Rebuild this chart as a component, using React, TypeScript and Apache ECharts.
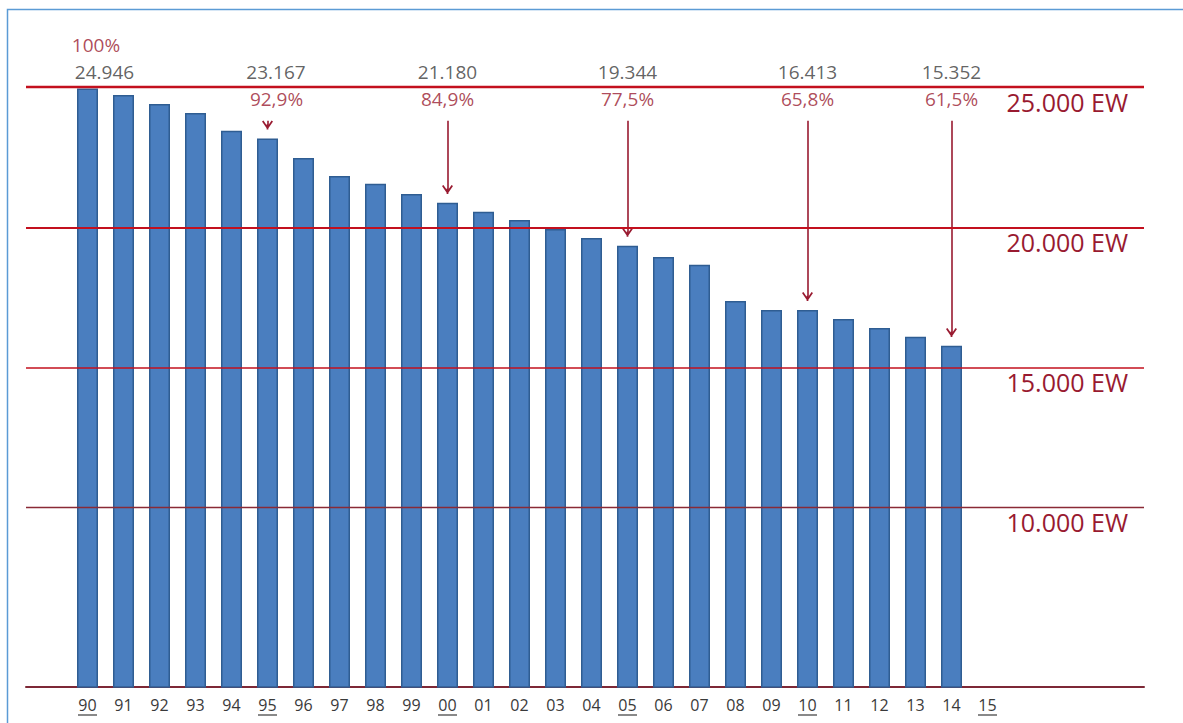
import React, { useEffect, useRef } from 'react';
import * as echarts from 'echarts';

// ---------- data ----------
const YEARS = ['90', '91', '92', '93', '94', '95', '96', '97', '98', '99', '00', '01', '02', '03', '04', '05', '06', '07', '08', '09', '10', '11', '12', '13', '14', '15'];
const INHABITANTS: (number | null)[] = [24946, 24720, 24400, 24080, 23440, 23167, 22470, 21830, 21550, 21190, 20870, 20550, 20260, 19940, 19620, 19344, 18940, 18660, 17370, 17050, 17050, 16730, 16410, 16090, 15770, null];
const UNDERLINED_YEARS = ['90', '95', '00', '05', '10', '15'];
const ANNOTATED_YEARS = ['90', '95', '00', '05', '10', '14'];
const ANNOTATED_VALUES = ['24.946', '23.167', '21.180', '19.344', '16.413', '15.352'];
const ANNOTATED_SHARES = ['100%', '92,9%', '84,9%', '77,5%', '65,8%', '61,5%'];
const REFERENCE_LEVELS = [25000, 20000, 15000, 10000];
const REFERENCE_LABELS = ['25.000 EW', '20.000 EW', '15.000 EW', '10.000 EW'];

// ---------- layout / style ----------
const Y_MIN = 3600;
const Y_MAX = 28000;
const VALUE_LABEL_Y = 25540;
const SHARE_LABEL_Y = 24575;
const TOP_SHARE_Y = 26500;
const ARROW_START = 23800;
const ARROW_GAP = 480;
const ANNOT_DX: Record<string, [number, number]> = { '90': [17, 8.5], '95': [8.5, 9] };

const FONT = '"Open Sans", "Noto Sans", sans-serif';
const GREY = '#3a3a3a';
const TEXT_RED = '#991a30';
const LINE_RED = '#c3101e';
const LEVEL_STYLES = [
  { color: LINE_RED, width: 2.4 },
  { color: LINE_RED, width: 2 },
  { color: LINE_RED, width: 1.6 },
  { color: '#8a2a36', width: 1.4 },
];
const CHEVRON = 'path://M5,0 L10,7.5 L8.7,8.5 L5,2.9 L1.3,8.5 L0,7.5 Z M4.2,0 L5.8,0 L5.8,5 L4.2,5 Z';

export default function App() {
  const ref = useRef<HTMLDivElement>(null);

  useEffect(() => {
    document.body.style.margin = '0';
    const chart = echarts.init(ref.current!, undefined, { renderer: 'svg' });

    const annotations: any[] = [];
    ANNOTATED_YEARS.forEach((yr, i) => {
      const dx = ANNOT_DX[yr] || [0, 0];
      annotations.push({
        value: [yr, VALUE_LABEL_Y],
        label: { formatter: ANNOTATED_VALUES[i], color: GREY, offset: [dx[0], 0] },
      });
      annotations.push({
        value: [yr, i === 0 ? TOP_SHARE_Y : SHARE_LABEL_Y],
        label: { formatter: ANNOTATED_SHARES[i], color: TEXT_RED, offset: [dx[1], 0] },
      });
    });

    const arrows = ANNOTATED_YEARS.slice(1).map((yr) => {
      const v = INHABITANTS[YEARS.indexOf(yr)] as number;
      return [{ coord: [yr, ARROW_START] }, { coord: [yr, v + ARROW_GAP] }];
    });

    chart.setOption({
      animation: false,
      backgroundColor: '#ffffff',
      grid: [
        { left: 69.5, width: 936, top: 3, bottom: 36 },
        { left: 26, right: 39, top: 3, bottom: 36 },
      ],
      xAxis: [
        {
          type: 'category',
          gridIndex: 0,
          data: YEARS,
          axisLine: { show: false },
          axisTick: { show: false },
          splitLine: { show: false },
          axisLabel: { color: GREY, fontSize: 16, fontFamily: FONT, margin: 10, interval: 0 },
        },
        {
          type: 'value',
          gridIndex: 1,
          min: 0,
          max: 1,
          axisLine: { show: true, onZero: false, lineStyle: { color: '#7d2836', width: 2 } },
          axisTick: { show: false },
          axisLabel: { show: false },
          splitLine: { show: false },
        },
      ],
      yAxis: [
        { type: 'value', gridIndex: 0, min: Y_MIN, max: Y_MAX, show: false },
        { type: 'value', gridIndex: 1, min: Y_MIN, max: Y_MAX, show: false },
      ],
      series: [
        {
          type: 'bar',
          xAxisIndex: 0,
          yAxisIndex: 0,
          data: INHABITANTS,
          barWidth: 21,
          z: 2,
          itemStyle: { color: '#4a7ebf', borderColor: '#2f5d92', borderWidth: 1.5 },
          markLine: {
            silent: true,
            symbol: ['none', CHEVRON],
            symbolSize: [11, 9],
            lineStyle: { color: TEXT_RED, width: 1.6, type: 'solid' },
            label: { show: false },
            emphasis: { disabled: true },
            data: arrows,
          },
        },
        {
          type: 'line',
          xAxisIndex: 1,
          yAxisIndex: 1,
          data: [[0, Y_MIN], [1, Y_MIN]],
          symbol: 'none',
          silent: true,
          lineStyle: { opacity: 0 },
          z: 5,
          markLine: {
            silent: true,
            symbol: ['none', 'none'],
            emphasis: { disabled: true },
            label: {
              show: true,
              position: 'insideEndBottom',
              distance: [16, 2],
              color: TEXT_RED,
              fontSize: 25,
              fontFamily: FONT,
            },
            data: REFERENCE_LEVELS.map((lv, i) => ({
              yAxis: lv,
              lineStyle: { type: 'solid', ...LEVEL_STYLES[i] },
              label: { formatter: REFERENCE_LABELS[i] },
            })),
          },
        },
        {
          type: 'scatter',
          xAxisIndex: 0,
          yAxisIndex: 0,
          symbolSize: 1,
          silent: true,
          z: 6,
          itemStyle: { color: 'rgba(0,0,0,0)' },
          label: { show: true, position: 'inside', fontSize: 19, fontFamily: FONT },
          data: annotations,
        },
      ],
    });

    const underlines = UNDERLINED_YEARS.map((yr) => {
      const x = chart.convertToPixel({ xAxisIndex: 0 }, yr) as number;
      return {
        type: 'line',
        silent: true,
        shape: { x1: x - 9.5, y1: 715, x2: x + 9.5, y2: 715 },
        style: { stroke: GREY, lineWidth: 1.2 },
      };
    });

    chart.setOption({
      graphic: [
        {
          type: 'rect',
          silent: true,
          shape: { x: 7.5, y: 9.5, width: 1400, height: 1000 },
          style: { fill: 'none', stroke: '#5b9bd5', lineWidth: 1.5 },
        },
        ...underlines,
      ],
    });

    return () => chart.dispose();
  }, []);

  return <div ref={ref} style={{ position: 'absolute', left: 0, top: 0, width: 1183, height: 723 }} />;
}
